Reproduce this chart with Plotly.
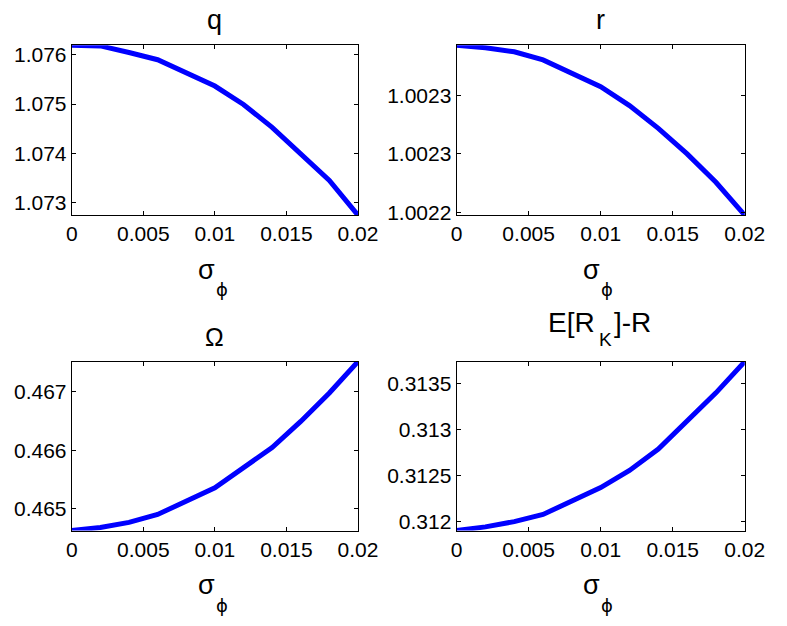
import plotly.graph_objects as go

# ---------------- data ----------------
sigma_phi = [0.0, 0.002, 0.004, 0.006, 0.010, 0.012, 0.014, 0.016, 0.018, 0.020]
q_vals = [1.076194, 1.076180, 1.076046, 1.075900, 1.075366, 1.074993, 1.074527, 1.073993, 1.073450, 1.072746]
r_vals = [1.0023425, 1.0023403, 1.0023369, 1.0023300, 1.0023072, 1.0022911, 1.0022717, 1.0022500, 1.0022258, 1.0021978]
omega_vals = [0.464626, 0.464677, 0.464766, 0.464900, 0.465358, 0.465710, 0.466045, 0.466491, 0.466977, 0.467514]
premium_vals = [0.311901, 0.311941, 0.311998, 0.312076, 0.312368, 0.312555, 0.312787, 0.313089, 0.313398, 0.313738]

x_tickvals = [0, 0.005, 0.01, 0.015, 0.02]
x_ticktext = ["0", "0.005", "0.01", "0.015", "0.02"]
q_tickvals = [1.073, 1.074, 1.075, 1.076]
q_ticktext = ["1.073", "1.074", "1.075", "1.076"]
r_tickvals = [1.0022, 1.00225, 1.0023]
r_ticktext = ["1.0022", "1.0023", "1.0023"]
omega_tickvals = [0.465, 0.466, 0.467]
omega_ticktext = ["0.465", "0.466", "0.467"]
premium_tickvals = [0.312, 0.3125, 0.313, 0.3135]
premium_ticktext = ["0.312", "0.3125", "0.313", "0.3135"]

W, H = 787, 626
FONT = "Arial, 'Liberation Sans', sans-serif"

def px_x(p):
    return p / W

def px_y(p):
    return 1 - p / H

panels = [
    (q_vals, q_tickvals, q_ticktext, (68, 364), (44, 217)),
    (r_vals, r_tickvals, r_ticktext, (466, 764), (44, 217)),
    (omega_vals, omega_tickvals, omega_ticktext, (68, 364), (366, 538)),
    (premium_vals, premium_tickvals, premium_ticktext, (466, 764), (366, 538)),
]

fig = go.Figure()
layout = dict(
    width=W, height=H,
    margin=dict(l=0, r=0, t=0, b=0),
    paper_bgcolor="white", plot_bgcolor="white",
    showlegend=False,
    font=dict(family=FONT, size=21, color="black"),
)

axis_common = dict(
    showline=True, linecolor="black", linewidth=1, mirror="ticks",
    ticks="inside", ticklen=4, tickcolor="black", tickwidth=1,
    showgrid=False, zeroline=False,
    tickfont=dict(family=FONT, size=21, color="black"),
)

for i, (vals, tv, tt, xd, yd) in enumerate(panels):
    n = "" if i == 0 else str(i + 1)
    fig.add_trace(go.Scatter(
        x=sigma_phi, y=vals, mode="lines",
        line=dict(color="rgb(0,0,255)", width=5),
        xaxis="x" + n, yaxis="y" + n,
    ))
    layout["xaxis" + n] = dict(
        axis_common, domain=[px_x(xd[0]), px_x(xd[1])],
        range=[min(sigma_phi), max(sigma_phi)],
        tickvals=x_tickvals, ticktext=x_ticktext,
        anchor="y" + n,
    )
    layout["yaxis" + n] = dict(
        axis_common, domain=[px_y(yd[1]), px_y(yd[0])],
        range=[min(vals), max(vals)],
        tickvals=tv, ticktext=tt,
        anchor="x" + n,
    )

annotations = []

def add_text(text, cx, cy, size, family=FONT):
    annotations.append(dict(
        text=text, x=px_x(cx), y=px_y(cy), xref="paper", yref="paper",
        xanchor="center", yanchor="middle", showarrow=False,
        font=dict(family=family, size=size, color="black"),
    ))

# titles
add_text("q", 216, 18, 27)
add_text("r", 615, 18, 27)
add_text("Ω", 216, 341, 25)
add_text("E[R", 585, 326, 28)
add_text("K", 620, 344, 19)
add_text("]-R", 648, 326, 28)

# x labels: sigma with subscript phi
for cx, base in [(216, 282), (615, 282), (216, 603), (615, 603)]:
    add_text("σ", cx - 9, base - 9.5, 27)
    add_text("ϕ", cx + 7, base + 11, 18, "'DejaVu Sans', sans-serif")

layout["annotations"] = annotations
fig.update_layout(**layout)
fig.write_html("out.html")
